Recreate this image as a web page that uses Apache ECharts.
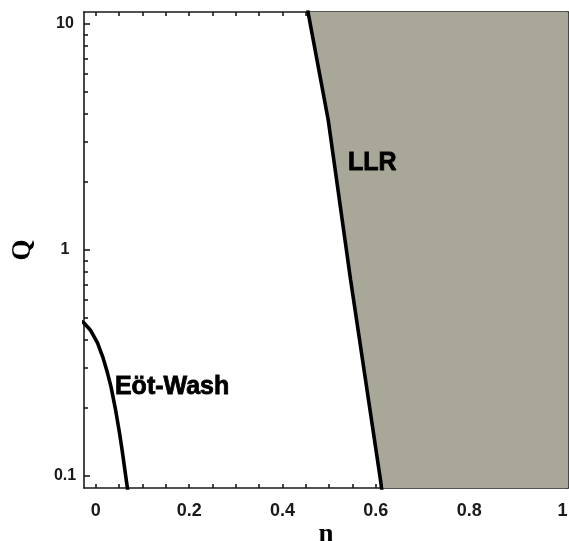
<!DOCTYPE html>
<html>
<head>
<meta charset="utf-8">
<script src="https://cdn.jsdelivr.net/npm/echarts@6/dist/echarts.min.js"></script>
<style>
html,body{margin:0;padding:0;background:#fff;}
#c{width:569px;height:541px;}
</style>
</head>
<body>
<div id="c"></div>
<script>
// Data
var EW_N = [-0.030, -0.0253, -0.0118, 0.0036, 0.0150, 0.0234, 0.0326, 0.0424, 0.0508, 0.0564, 0.0677, 0.0690];
var EW_Q = [0.482, 0.475, 0.443, 0.388, 0.336, 0.294, 0.248, 0.196, 0.155, 0.130, 0.0885, 0.085];
var LLR_N = [0.454, 0.498, 0.546, 0.610, 0.613];
var LLR_Q = [11.5, 3.76, 0.737, 0.096, 0.086];
var X_LABELS = [0, 0.2, 0.4, 0.6, 0.8, 1];
var X_TICKS = [0, 0.05, 0.1, 0.15, 0.2, 0.25, 0.3, 0.35, 0.4, 0.45, 0.5, 0.55, 0.6, 0.65, 0.7, 0.75, 0.8, 0.85, 0.9, 0.95, 1];
var Y_LABELS = [0.1, 1, 10];
var Y_MINOR = [0.2, 0.3, 0.4, 0.5, 0.6, 0.7, 0.8, 0.9, 2, 3, 4, 5, 6, 7, 8, 9];
var TEXTS = [[0.041, 0.247, 'Eöt-Wash'], [0.5404, 2.43, 'LLR']];

var X_MIN = -0.0253, X_MAX = 1.0118, Y_MIN = 0.0885, Y_MAX = 11.30;

function zip(a, b) { return a.map(function (v, i) { return [v, b[i]]; }); }

var chart = echarts.init(document.getElementById('c'), null, { renderer: 'canvas' });
var axisLineStyle = { color: '#1a1a1a', width: 1.6 };
var labelFont = { fontFamily: 'Liberation Sans', fontWeight: 'bold', color: '#1a1a1a' };

function yAxisBase(extra) {
  return Object.assign({
    type: 'log', logBase: 10, min: Y_MIN, max: Y_MAX, gridIndex: 0,
    splitLine: { show: false }, minorTick: { show: false }, minorSplitLine: { show: false }
  }, extra);
}
function xAxisBase(extra) {
  return Object.assign({
    type: 'value', min: X_MIN, max: X_MAX, gridIndex: 0,
    splitLine: { show: false }
  }, extra);
}

chart.setOption({
  animation: false,
  backgroundColor: '#fff',
  grid: { left: 84, right: 1, top: 12, bottom: 53, containLabel: false, outerBoundsMode: 'none' },
  xAxis: [
    xAxisBase({
      position: 'bottom',
      name: 'n', nameLocation: 'middle', nameGap: 34, nameMoveOverlap: false,
      nameTextStyle: { fontFamily: 'Liberation Serif', fontWeight: 'bold', fontSize: 27, color: '#000' },
      axisLine: { show: true, onZero: false, lineStyle: axisLineStyle },
      axisTick: { show: true, inside: true, length: 4, customValues: X_TICKS, lineStyle: axisLineStyle },
      axisLabel: Object.assign({ fontSize: 18, margin: 14, customValues: X_LABELS,
        formatter: function (v) { return String(+v.toFixed(2)); } }, labelFont)
    }),
    xAxisBase({
      position: 'top',
      axisLine: { show: true, onZero: false, lineStyle: axisLineStyle },
      axisTick: { show: true, inside: true, length: 4, customValues: X_TICKS, lineStyle: axisLineStyle },
      axisLabel: { show: false }
    })
  ],
  yAxis: [
    yAxisBase({
      position: 'left',
      name: 'Q', nameLocation: 'middle', nameGap: 47,
      nameTextStyle: { fontFamily: 'Liberation Serif', fontWeight: 'bold', fontSize: 27, color: '#000' },
      axisLine: { show: true, onZero: false, lineStyle: axisLineStyle },
      axisTick: { show: true, inside: true, length: 6, customValues: Y_LABELS, lineStyle: axisLineStyle },
      axisLabel: Object.assign({ fontSize: 16, margin: 19, align: 'center', customValues: Y_LABELS,
        formatter: function (v) { return String(+(+v).toPrecision(3)); } }, labelFont)
    }),
    yAxisBase({
      position: 'left',
      axisLine: { show: false, onZero: false },
      axisTick: { show: true, inside: true, length: 4, customValues: Y_MINOR, lineStyle: axisLineStyle },
      axisLabel: { show: false }
    }),
    yAxisBase({
      position: 'right',
      axisLine: { show: true, onZero: false, lineStyle: axisLineStyle },
      axisTick: { show: true, inside: true, length: 6, customValues: Y_LABELS, lineStyle: axisLineStyle },
      axisLabel: { show: false }
    }),
    yAxisBase({
      position: 'right',
      axisLine: { show: false, onZero: false },
      axisTick: { show: true, inside: true, length: 4, customValues: Y_MINOR, lineStyle: axisLineStyle },
      axisLabel: { show: false }
    })
  ],
  series: [
    {
      type: 'custom', xAxisIndex: 0, yAxisIndex: 0, clip: true, z: 1,
      data: [[LLR_N[0], LLR_Q[0]]],
      renderItem: function (params, api) {
        var cs = params.coordSys;
        var pts = LLR_N.map(function (n, i) { return api.coord([n, LLR_Q[i]]); });
        var first = pts[0], last = pts[pts.length - 1];
        pts.push([cs.x + cs.width + 5, last[1]]);
        pts.push([cs.x + cs.width + 5, first[1]]);
        return { type: 'polygon', shape: { points: pts }, style: { fill: '#a9a898' } };
      }
    },
    {
      type: 'line', xAxisIndex: 0, yAxisIndex: 0, data: zip(LLR_N, LLR_Q),
      showSymbol: false, symbol: 'none', clip: true, z: 3,
      lineStyle: { color: '#000', width: 3.6 }
    },
    {
      type: 'line', xAxisIndex: 0, yAxisIndex: 0, data: zip(EW_N, EW_Q),
      showSymbol: false, symbol: 'none', smooth: false, clip: true, z: 3,
      lineStyle: { color: '#000', width: 3.6, join: 'round', cap: 'round' }
    },
    {
      type: 'scatter', xAxisIndex: 0, yAxisIndex: 0, symbolSize: 0, z: 4,
      data: TEXTS.map(function (t) { return { value: [t[0], t[1]], name: t[2] }; }),
      label: {
        show: true, position: 'right', distance: 0,
        formatter: function (p) { return p.name; },
        fontFamily: 'Liberation Sans', fontWeight: 'bold', fontSize: 25, color: '#000',
        textBorderColor: '#000', textBorderWidth: 0.8
      },
      itemStyle: { opacity: 1 },
      silent: true
    }
  ]
});
</script>
</body>
</html>
